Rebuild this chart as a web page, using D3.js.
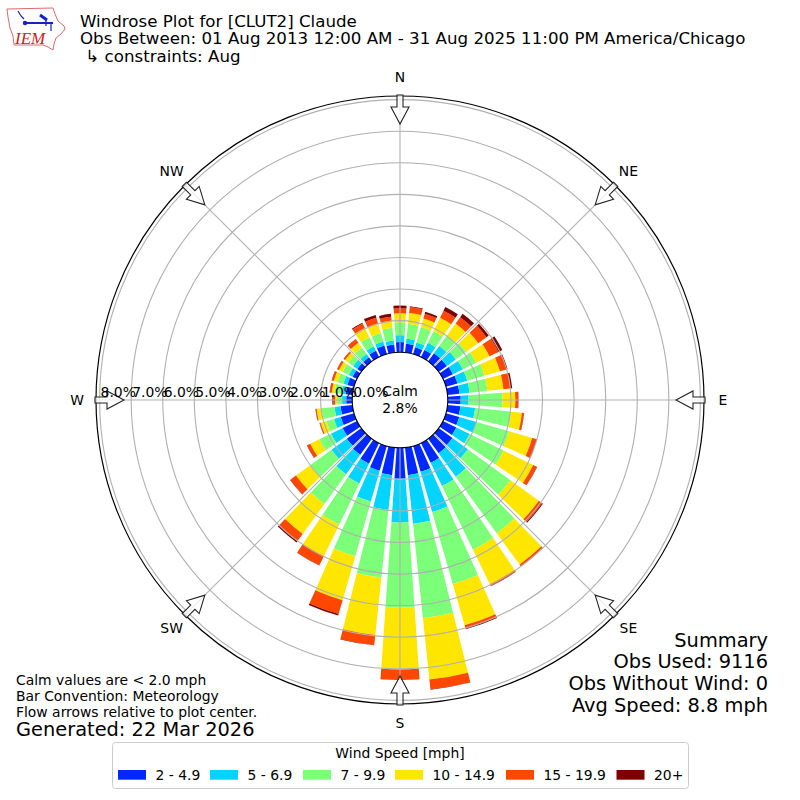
<!DOCTYPE html>
<html>
<head>
<meta charset="utf-8">
<script src="https://cdn.jsdelivr.net/npm/d3@7/dist/d3.min.js"></script>
<style>
html,body{margin:0;padding:0;background:#fff}
svg{display:block}
text{font-family:"DejaVu Sans",sans-serif;fill:#000}
</style>
</head>
<body>
<svg id="c" width="800" height="800"></svg>
<script>
const directions = d3.range(0, 360, 10);
const speedLabels = ["2 - 4.9","5 - 6.9","7 - 9.9","10 - 14.9","15 - 19.9","20+"];
const speedColors = ["#0028ff","#00d4ff","#7cff79","#ffe600","#ff4700","#7f0000"];
const s2  = [.32,.28,.22,.25,.32,.32,.35,.38,.38,.41,.41,.44,.47,.54,.57,.70,.85,.88,.98,.88,.82,.73,.63,.57,.51,.44,.38,.19,.22,.22,.16,.16,.16,.22,.28,.25];
const s5  = [.22,.16,.16,.25,.28,.35,.35,.32,.32,.25,.47,.57,.47,.60,.92,.82,1.33,1.55,1.39,1.11,1.01,.70,.76,.60,.41,.22,.19,.13,.13,.13,.13,.16,.13,.16,.13,.13];
const s7  = [.41,.47,.51,.41,.41,.41,.47,.57,.57,1.07,1.14,1.07,1.20,1.67,2.21,2.24,2.37,3.00,2.69,2.15,1.80,1.45,1.17,.82,.41,.25,.41,.16,.22,.19,.22,.19,.25,.32,.28,.41];
const s10 = [.28,.35,.28,.47,.47,.47,.47,.51,.51,.41,.35,.76,1.04,1.11,1.23,1.22,1.36,1.96,1.96,1.83,1.45,1.11,1.17,.57,.32,.19,.16,.06,.09,.13,.13,.13,.19,.32,.32,.22];
const s15 = [.16,.19,.16,.25,.25,.32,.32,.22,.22,.09,.06,.14,.13,.13,.06,.06,.11,.31,.32,.32,.46,.32,.28,.22,.11,.03,.03,.06,.06,.06,.06,.05,.13,.16,.19,.13];
const s20 = [.09,.02,.06,.13,.13,.09,.13,.03,.06,.01,.01,.02,.01,.03,.01,.01,.02,.01,.01,.01,.05,.01,.05,.01,.01,.01,.01,.03,.01,.01,.01,.01,.01,.03,.09,.09];
const seriesValues = [s2,s5,s7,s10,s15,s20];
const radialTicks = [0,1,2,3,4,5,6,7,8];
const compass = ["N","NE","E","SE","S","SW","W","NW"];
const titleLines = ["Windrose Plot for [CLUT2] Claude","Obs Between: 01 Aug 2013 12:00 AM - 31 Aug 2025 11:00 PM America/Chicago"," \u21b3 constraints: Aug"];
const summaryLines = ["Summary","Obs Used: 9116","Obs Without Wind: 0","Avg Speed: 8.8 mph"];
const noteLines = ["Calm values are < 2.0 mph","Bar Convention: Meteorology","Flow arrows relative to plot center."];
const generated = "Generated: 22 Mar 2026";

const svg = d3.select("#c");
const cx = 400, cy = 400;
const r = d3.scaleLinear().domain([0,8]).range([47.8,300.4]);
const outerR = 304;
const rad = d => d*Math.PI/180;
const barHalf = 4;

const table = directions.map((d,i)=>{const o={dir:d};seriesValues.forEach((s,k)=>o[k]=s[i]);return o;});
const stacked = d3.stack().keys(d3.range(seriesValues.length))(table);
const plot = svg.append("g").attr("transform",`translate(${cx},${cy})`);
const arc = d3.arc();

plot.selectAll("g.s").data(stacked).join("g").attr("class","s")
  .attr("fill",(d,i)=>speedColors[i])
  .selectAll("path").data(d=>d).join("path")
  .attr("d",d=>arc({innerRadius:r(d[0]),outerRadius:r(d[1]),
     startAngle:rad(d.data.dir-barHalf),endAngle:rad(d.data.dir+barHalf)}));

const grid = plot.append("g").attr("fill","none").attr("stroke","#b0b0b0").attr("stroke-width",1.1);
grid.selectAll("circle").data(radialTicks.slice(1)).join("circle").attr("r",d=>r(d));
grid.selectAll("line").data(d3.range(0,360,45)).join("line")
  .attr("x1",d=>r(0)*Math.sin(rad(d))).attr("y1",d=>-r(0)*Math.cos(rad(d)))
  .attr("x2",d=>outerR*Math.sin(rad(d))).attr("y2",d=>-outerR*Math.cos(rad(d)));

plot.append("circle").attr("r",outerR).attr("fill","none").attr("stroke","#000").attr("stroke-width",1.2);
plot.append("circle").attr("r",r(0)).attr("fill","none").attr("stroke","#000").attr("stroke-width",1.1);

// flow arrows
const arrowPath = "M-3,-305 L3,-305 L3,-293 L9,-293 L0,-276 L-9,-293 L-3,-293 Z";
plot.selectAll("path.arrow").data(d3.range(0,360,45)).join("path").attr("class","arrow")
  .attr("d",arrowPath).attr("fill","#fff").attr("fill-opacity",.75)
  .attr("stroke","#222").attr("stroke-width",1.1).attr("stroke-linejoin","miter")
  .attr("transform",d=>`rotate(${d})`);

// compass labels
const labR = 323;
plot.selectAll("text.comp").data(compass).join("text").attr("class","comp")
  .attr("text-anchor","middle").attr("font-size",13.9)
  .attr("x",(d,i)=>labR*Math.sin(rad(i*45)))
  .attr("y",(d,i)=>-labR*Math.cos(rad(i*45))+4.5)
  .text(d=>d);

// radial tick labels
plot.selectAll("text.tick").data(radialTicks).join("text").attr("class","tick")
  .attr("font-size",13.9).attr("x",d=>-r(d)+1).attr("y",-3)
  .text(d=>d.toFixed(1)+"%");

plot.append("text").attr("text-anchor","middle").attr("font-size",13.9).attr("y",-4).text("Calm");
plot.append("text").attr("text-anchor","middle").attr("font-size",13.9).attr("y",13).text("2.8%");

// titles
svg.selectAll("text.title").data(titleLines).join("text").attr("class","title")
  .attr("xml:space","preserve").style("white-space","pre")
  .attr("x",80).attr("y",(d,i)=>26.5+i*17.8).attr("font-size",15.3*1.09).text(d=>d);

svg.selectAll("text.sum").data(summaryLines).join("text").attr("class","sum")
  .attr("x",768).attr("y",(d,i)=>646.5+i*21.8).attr("text-anchor","end").attr("font-size",19.4).text(d=>d);

svg.selectAll("text.note").data(noteLines).join("text").attr("class","note")
  .attr("x",16).attr("y",(d,i)=>685+i*16).attr("font-size",13.9).text(d=>d);
svg.append("text").attr("x",16).attr("y",736).attr("font-size",19.4).text(generated);

// legend
svg.append("rect").attr("x",112.5).attr("y",742.5).attr("width",576).attr("height",46).attr("rx",3)
  .attr("fill","#fff").attr("stroke","#ccc");
svg.append("text").attr("x",400).attr("y",758).attr("text-anchor","middle").attr("font-size",13.9).text("Wind Speed [mph]");
const legendX = d3.scaleOrdinal().domain(speedLabels).range([118,210,303,395,506,616.5]);
const lg = svg.selectAll("g.lg").data(speedLabels).join("g").attr("class","lg")
  .attr("transform",d=>`translate(${legendX(d)},770)`);
lg.append("rect").attr("width",28).attr("height",9.7).attr("fill",(d,i)=>speedColors[i]);
lg.append("text").attr("x",37.5).attr("y",9.7).attr("font-size",13.9).text(d=>d);

// IEM logo
const logo = svg.append("g");
logo.append("path").attr("d","M7,9 L53,8 L55,14 L58,21 L64,26 L65,29 L61,34 L56,38 L54,44 L53,50 L48,47 L43,45 L14,45 L13,36 L10,28 L8,17 Z")
  .attr("fill","#fff").attr("stroke","#e06a6a").attr("stroke-width",1);
logo.append("g").attr("fill","none").attr("stroke","#1024c8").call(g=>{
  g.append("path").attr("d","M26,23 L53,23").attr("stroke-width",2);
  g.append("path").attr("d","M18,11 L21,16 L24,19").attr("stroke-width",1.2);
  g.append("path").attr("d","M40,15 L47,20").attr("stroke-width",3);
  g.append("path").attr("d","M46,20 L46,26 M51,23 L51,31").attr("stroke-width",1.2);
});
logo.append("circle").attr("cx",25).attr("cy",23).attr("r",2.2).attr("fill","#1024c8");
logo.append("text").attr("x",15).attr("y",44).attr("font-size",17).attr("font-style","italic")
  .style("font-family","'Liberation Serif',serif").style("fill","#d02020").text("IEM");
</script>
</body>
</html>
